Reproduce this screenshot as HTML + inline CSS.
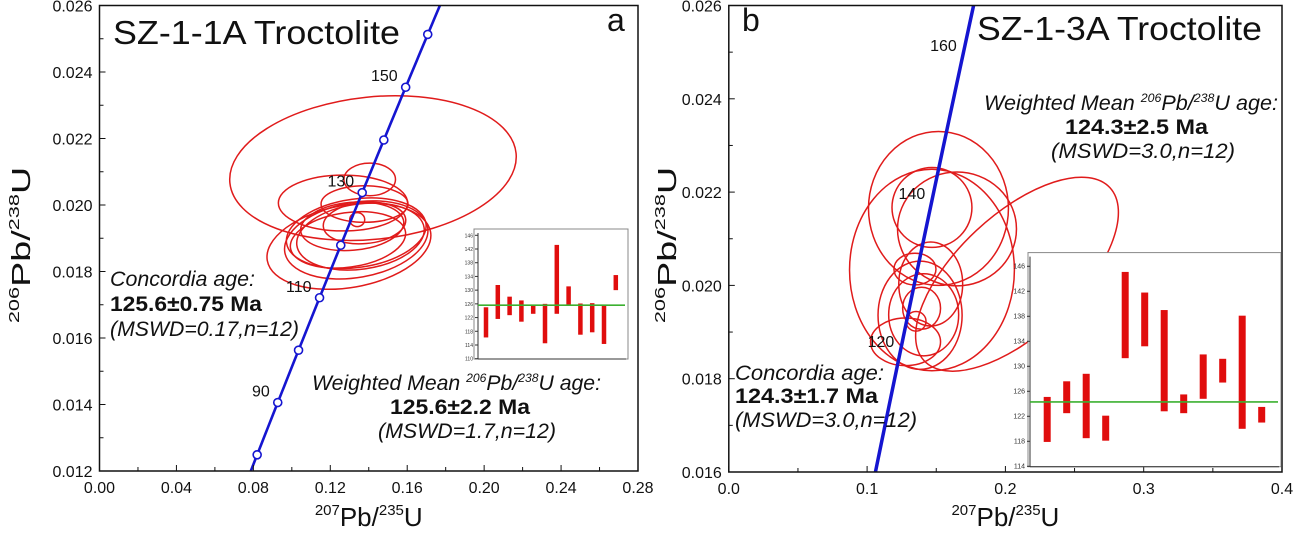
<!DOCTYPE html>
<html><head><meta charset="utf-8">
<style>
html,body{margin:0;background:#fff;overflow:hidden;width:1300px;height:539px;}
svg{display:block;font-family:"Liberation Sans",Arial,sans-serif;}
</style></head>
<body>
<svg id="fig" width="1300" height="539" viewBox="0 0 1300 539" xmlns="http://www.w3.org/2000/svg"></svg>
<script>
// ---------- DATA ----------
const concordiaAgesA = [80,90,100,110,120,130,140,150,160];
const labeledAgesA = [90,110,130,150];
const labeledAgesB = [120,140,160];
const ellCxA = [0.1405,0.1266,0.1378,0.1340,0.1297,0.1335,0.1357,0.1292,0.1314,0.1335,0.1378,0.1422];
const ellCyA = [0.02077,0.02006,0.02003,0.01956,0.01876,0.01895,0.01905,0.01895,0.01936,0.01915,0.01946,0.02111];
const ellRxA = [0.0134,0.0336,0.0226,0.0039,0.0431,0.0377,0.0334,0.0302,0.0269,0.0366,0.0215,0.0748];
const ellRyA = [0.00049,0.00084,0.00055,0.00021,0.00124,0.00113,0.00098,0.00082,0.00072,0.00103,0.00062,0.00214];
const ellRotA = [0,0,0,0,-10,-10,-8,-8,-5,-8,-5,-6];
const ellCxB = [0.2084,0.1516,0.1469,0.1650,0.1469,0.1460,0.1346,0.1383,0.1409,0.1394,0.1354,0.1278];
const ellCyB = [0.02024,0.02165,0.02167,0.02121,0.02033,0.02003,0.02035,0.01936,0.01937,0.01951,0.01923,0.01879];
const ellRxB = [0.0918,0.0506,0.0289,0.0430,0.0596,0.0231,0.0152,0.0304,0.0253,0.0137,0.0072,0.0253];
const ellRyB = [0.00128,0.00165,0.000856,0.00122,0.00216,0.00090,0.00034,0.00116,0.00088,0.00045,0.00021,0.00051];
const ellRotB = [-43,0,0,0,0,0,0,0,0,0,0,0];
const barLowA = [116.2,121.6,122.7,120.8,123.1,114.5,123.1,125.4,117.0,117.7,114.3,130.0];
const barHighA = [125.0,131.5,128.1,127.0,125.4,126.0,143.2,131.1,126.1,126.2,125.5,134.4];
const meanA = 125.6;
const barLowB = [117.9,122.5,118.5,118.1,131.3,133.2,122.8,122.5,124.8,127.4,120.0,121.0];
const barHighB = [125.1,127.6,128.8,122.1,145.1,141.8,139.0,125.5,131.9,131.2,138.1,123.5];
const meanB = 124.3;
const xTicksA = ["0.00","0.04","0.08","0.12","0.16","0.20","0.24","0.28"];
const yTicksA = ["0.012","0.014","0.016","0.018","0.020","0.022","0.024","0.026"];
const xTicksB = ["0.0","0.1","0.2","0.3","0.4"];
const yTicksB = ["0.016","0.018","0.020","0.022","0.024","0.026"];
const insetTicksA = [110,114,118,122,126,130,134,138,142,146];
const insetTicksB = [114,118,122,126,130,134,138,142,146];

// ---------- helpers ----------
const NS="http://www.w3.org/2000/svg";
const svg=document.getElementById('fig');
function mk(tag,attrs,parent,text){const e=document.createElementNS(NS,tag);for(const k in attrs)e.setAttribute(k,attrs[k]);if(text!==undefined)e.textContent=text;(parent||svg).appendChild(e);return e;}
const L238=1.55125e-10,L235=9.8485e-10;
function r206(t){return Math.exp(L238*t*1e6)-1;}
function r207(t){return Math.exp(L235*t*1e6)-1;}
function lin(d0,d1,p0,p1){return v=>p0+(v-d0)/(d1-d0)*(p1-p0);}

function panel(o){
  const g=mk('g',{});
  
  
  const sx=lin(o.x0,o.x1,o.L,o.R), sy=lin(o.y0,o.y1,o.B,o.T);
  const eg=mk('g',{},g);
  
  
  for(let i=0;i<o.cx.length;i++){
    const X=sx(o.cx[i]),Y=sy(o.cy[i]);
    const rx=o.rx[i]*(o.R-o.L)/(o.x1-o.x0), ry=o.ry[i]*(o.B-o.T)/(o.y1-o.y0);
    const e=mk('ellipse',{cx:X,cy:Y,rx:rx,ry:ry,transform:`rotate(${o.rot[i]} ${X} ${Y})`,fill:'none',stroke:'#e01b1b','stroke-width':1.5},eg);
    
    
  }
  const cp=mk('clipPath',{id:o.name+'-clip'},g);mk('rect',{x:o.L,y:o.T,width:o.R-o.L,height:o.B-o.T},cp);
  let d='';for(let t=40;t<=200;t+=1){d+=(t===40?'M':'L')+sx(r207(t)).toFixed(2)+','+sy(r206(t)).toFixed(2);}
  const cl=mk('path',{d:d,fill:'none',stroke:'#1515d0','stroke-width':o.lw,'clip-path':`url(#${o.name}-clip)`},g);
  
  
  if(o.markers){for(const t of o.markers){const m=mk('circle',{cx:sx(r207(t)),cy:sy(r206(t)),r:4,fill:'#fff',stroke:'#1515d0','stroke-width':1.6},g);
    
    }}
  for(const t of o.labeled){const tx=mk('text',{x:sx(r207(t))-o.lblDx,y:sy(r206(t))+o.lblDy,'font-size':16,'text-anchor':'end',fill:'#111'},g,String(t));
    
    }
  const fr=mk('rect',{x:o.L,y:o.T,width:o.R-o.L,height:o.B-o.T,fill:'none',stroke:'#111','stroke-width':1.5},g);
  
  
  o.xt.forEach((s,i)=>{const v=parseFloat(s);const X=sx(v);
    mk('line',{x1:X,x2:X,y1:o.B,y2:o.B-6,stroke:'#111','stroke-width':1},g);
    const t=mk('text',{x:X,y:o.B+22,'font-size':16,'text-anchor':'middle',fill:'#111'},g,s);
    
    
    if(i<o.xt.length-1){const Xm=sx(v+o.xminor);mk('line',{x1:Xm,x2:Xm,y1:o.B,y2:o.B-4,stroke:'#111'},g);}
  });
  o.yt.forEach((s,i)=>{const v=parseFloat(s);const Y=sy(v);
    mk('line',{x1:o.L,x2:o.L+6,y1:Y,y2:Y,stroke:'#111'},g);
    const t=mk('text',{x:o.L-7,y:Y+6,'font-size':16,'text-anchor':'end',fill:'#111'},g,s);
    
    
    if(i<o.yt.length-1){const Ym=sy(v+0.001);mk('line',{x1:o.L,x2:o.L+4,y1:Ym,y2:Ym,stroke:'#111'},g);}
  });
  const xt=mk('text',{x:(o.L+o.R)/2,y:526,'font-size':26,'text-anchor':'middle',fill:'#111'},g);
  
  
  xt.innerHTML='<tspan font-size="15" dy="-11">207</tspan><tspan dy="11">Pb/</tspan><tspan font-size="15" dy="-11">235</tspan><tspan dy="11">U</tspan>';
  const yt=mk('text',{x:0,y:0,'font-size':26,'text-anchor':'middle',fill:'#111',transform:`translate(${o.ytx},245) rotate(-90) scale(1.45,1)`},g);
  
  
  yt.innerHTML='<tspan font-size="15" dy="-11">206</tspan><tspan dy="11">Pb/</tspan><tspan font-size="15" dy="-11">238</tspan><tspan dy="11">U</tspan>';
  return g;
}

function inset(o){
  const g=mk('g',{});
  
  
  mk('rect',{x:o.L,y:o.T,width:o.R-o.L,height:o.B-o.T,fill:'#fff',stroke:'#888','stroke-width':1},g);
  mk('line',{x1:o.axL,x2:o.axL,y1:o.T+4,y2:o.B,stroke:'#333'},g);
  mk('line',{x1:o.axL,x2:o.R-2,y1:o.B,y2:o.B,stroke:'#333'},g);
  const sy=lin(o.v0,o.v1,o.yB,o.yT);
  for(const v of o.ticks){const Y=sy(v);mk('line',{x1:o.axL,x2:o.axL-3,y1:Y,y2:Y,stroke:'#333'},g);
    const t=mk('text',{x:o.axL-5,y:Y+2,'font-size':o.fs,'text-anchor':'end',fill:'#333'},g,String(v));
    
    }
  for(let i=0;i<o.lo.length;i++){const X=o.x0+i*o.dx;
    const b=mk('rect',{x:X-o.bw/2,y:sy(o.hi[i]),width:o.bw,height:sy(o.lo[i])-sy(o.hi[i]),fill:'#e00d0d'},g);
    
    }
  const m=mk('line',{x1:o.axL,x2:o.R-3,y1:sy(o.mean),y2:sy(o.mean),stroke:'#3cb030','stroke-width':1.6},g);
  
  
}

panel({name:'panel-a',L:99.5,R:638,T:5.5,B:471,x0:0,x1:0.28,y0:0.012,y1:0.026,cx:ellCxA,cy:ellCyA,rx:ellRxA,ry:ellRyA,rot:ellRotA,
  lw:2.6,markers:concordiaAgesA,labeled:labeledAgesA,lblDx:8,lblDy:-6,xt:xTicksA,yt:yTicksA,xminor:0.02,ytx:30});
panel({name:'panel-b',L:728.8,R:1282,T:5.5,B:472,x0:0,x1:0.4,y0:0.016,y1:0.026,cx:ellCxB,cy:ellCyB,rx:ellRxB,ry:ellRyB,rot:ellRotB,
  lw:3.5,markers:null,labeled:labeledAgesB,lblDx:8,lblDy:5,xt:xTicksB,yt:yTicksB,xminor:0.05,ytx:676});
inset({name:'inset-a',L:474,R:628,T:229,B:359,axL:478,yT:235.3,yB:358.7,v0:110,v1:146,ticks:insetTicksA,fs:5,lo:barLowA,hi:barHighA,mean:meanA,x0:486,dx:11.8,bw:4.5});
inset({name:'inset-b',L:1028,R:1281,T:252.6,B:466.7,axL:1030,yT:266.3,yB:466.3,v0:114,v1:146,ticks:insetTicksB,fs:7,lo:barLowB,hi:barHighB,mean:meanB,x0:1047.2,dx:19.5,bw:7});

function txt(attrs,html,name,len){const t=mk('text',attrs);t.innerHTML=html;
  if(len){t.setAttribute('textLength',len);t.setAttribute('lengthAdjust','spacingAndGlyphs');}
  
  }
txt({x:113,y:44,'font-size':33,fill:'#111'},'SZ-1-1A Troctolite','panel-a-title',287);
txt({x:607,y:31,'font-size':32,fill:'#111'},'a','panel-a-letter');
txt({x:110,y:286,'font-size':21,'font-style':'italic',fill:'#111'},'Concordia age:','concordia-age-label-a',145);
txt({x:110,y:311,'font-size':21,'font-weight':'bold',fill:'#111'},'125.6±0.75 Ma','concordia-age-value-a',152);
txt({x:110,y:336,'font-size':21,'font-style':'italic',fill:'#111'},'(MSWD=0.17,n=12)','concordia-mswd-a',189);
txt({x:312,y:390,'font-size':21,'font-style':'italic',fill:'#111'},'Weighted Mean <tspan font-size="12" dy="-8">206</tspan><tspan dy="8">Pb/</tspan><tspan font-size="12" dy="-8">238</tspan><tspan dy="8">U age:</tspan>','weighted-mean-label-a',289);
txt({x:390,y:414,'font-size':21,'font-weight':'bold',fill:'#111'},'125.6±2.2 Ma','weighted-mean-value-a',140);
txt({x:378,y:438,'font-size':21,'font-style':'italic',fill:'#111'},'(MSWD=1.7,n=12)','weighted-mean-mswd-a',178);

txt({x:977,y:40,'font-size':33,fill:'#111'},'SZ-1-3A Troctolite','panel-b-title',285);
txt({x:742,y:31,'font-size':32,fill:'#111'},'b','panel-b-letter');
txt({x:984,y:110,'font-size':21,'font-style':'italic',fill:'#111'},'Weighted Mean <tspan font-size="12" dy="-8">206</tspan><tspan dy="8">Pb/</tspan><tspan font-size="12" dy="-8">238</tspan><tspan dy="8">U age:</tspan>','weighted-mean-label-b',294);
txt({x:1065,y:134,'font-size':21,'font-weight':'bold',fill:'#111'},'124.3±2.5 Ma','weighted-mean-value-b',143);
txt({x:1051,y:158,'font-size':21,'font-style':'italic',fill:'#111'},'(MSWD=3.0,n=12)','weighted-mean-mswd-b',184);
txt({x:735,y:380,'font-size':21,'font-style':'italic',fill:'#111'},'Concordia age:','concordia-age-label-b',149);
txt({x:735,y:403,'font-size':21,'font-weight':'bold',fill:'#111'},'124.3±1.7 Ma','concordia-age-value-b',143);
txt({x:735,y:427,'font-size':21,'font-style':'italic',fill:'#111'},'(MSWD=3.0,n=12)','concordia-mswd-b',182);
</script>
</body></html>
